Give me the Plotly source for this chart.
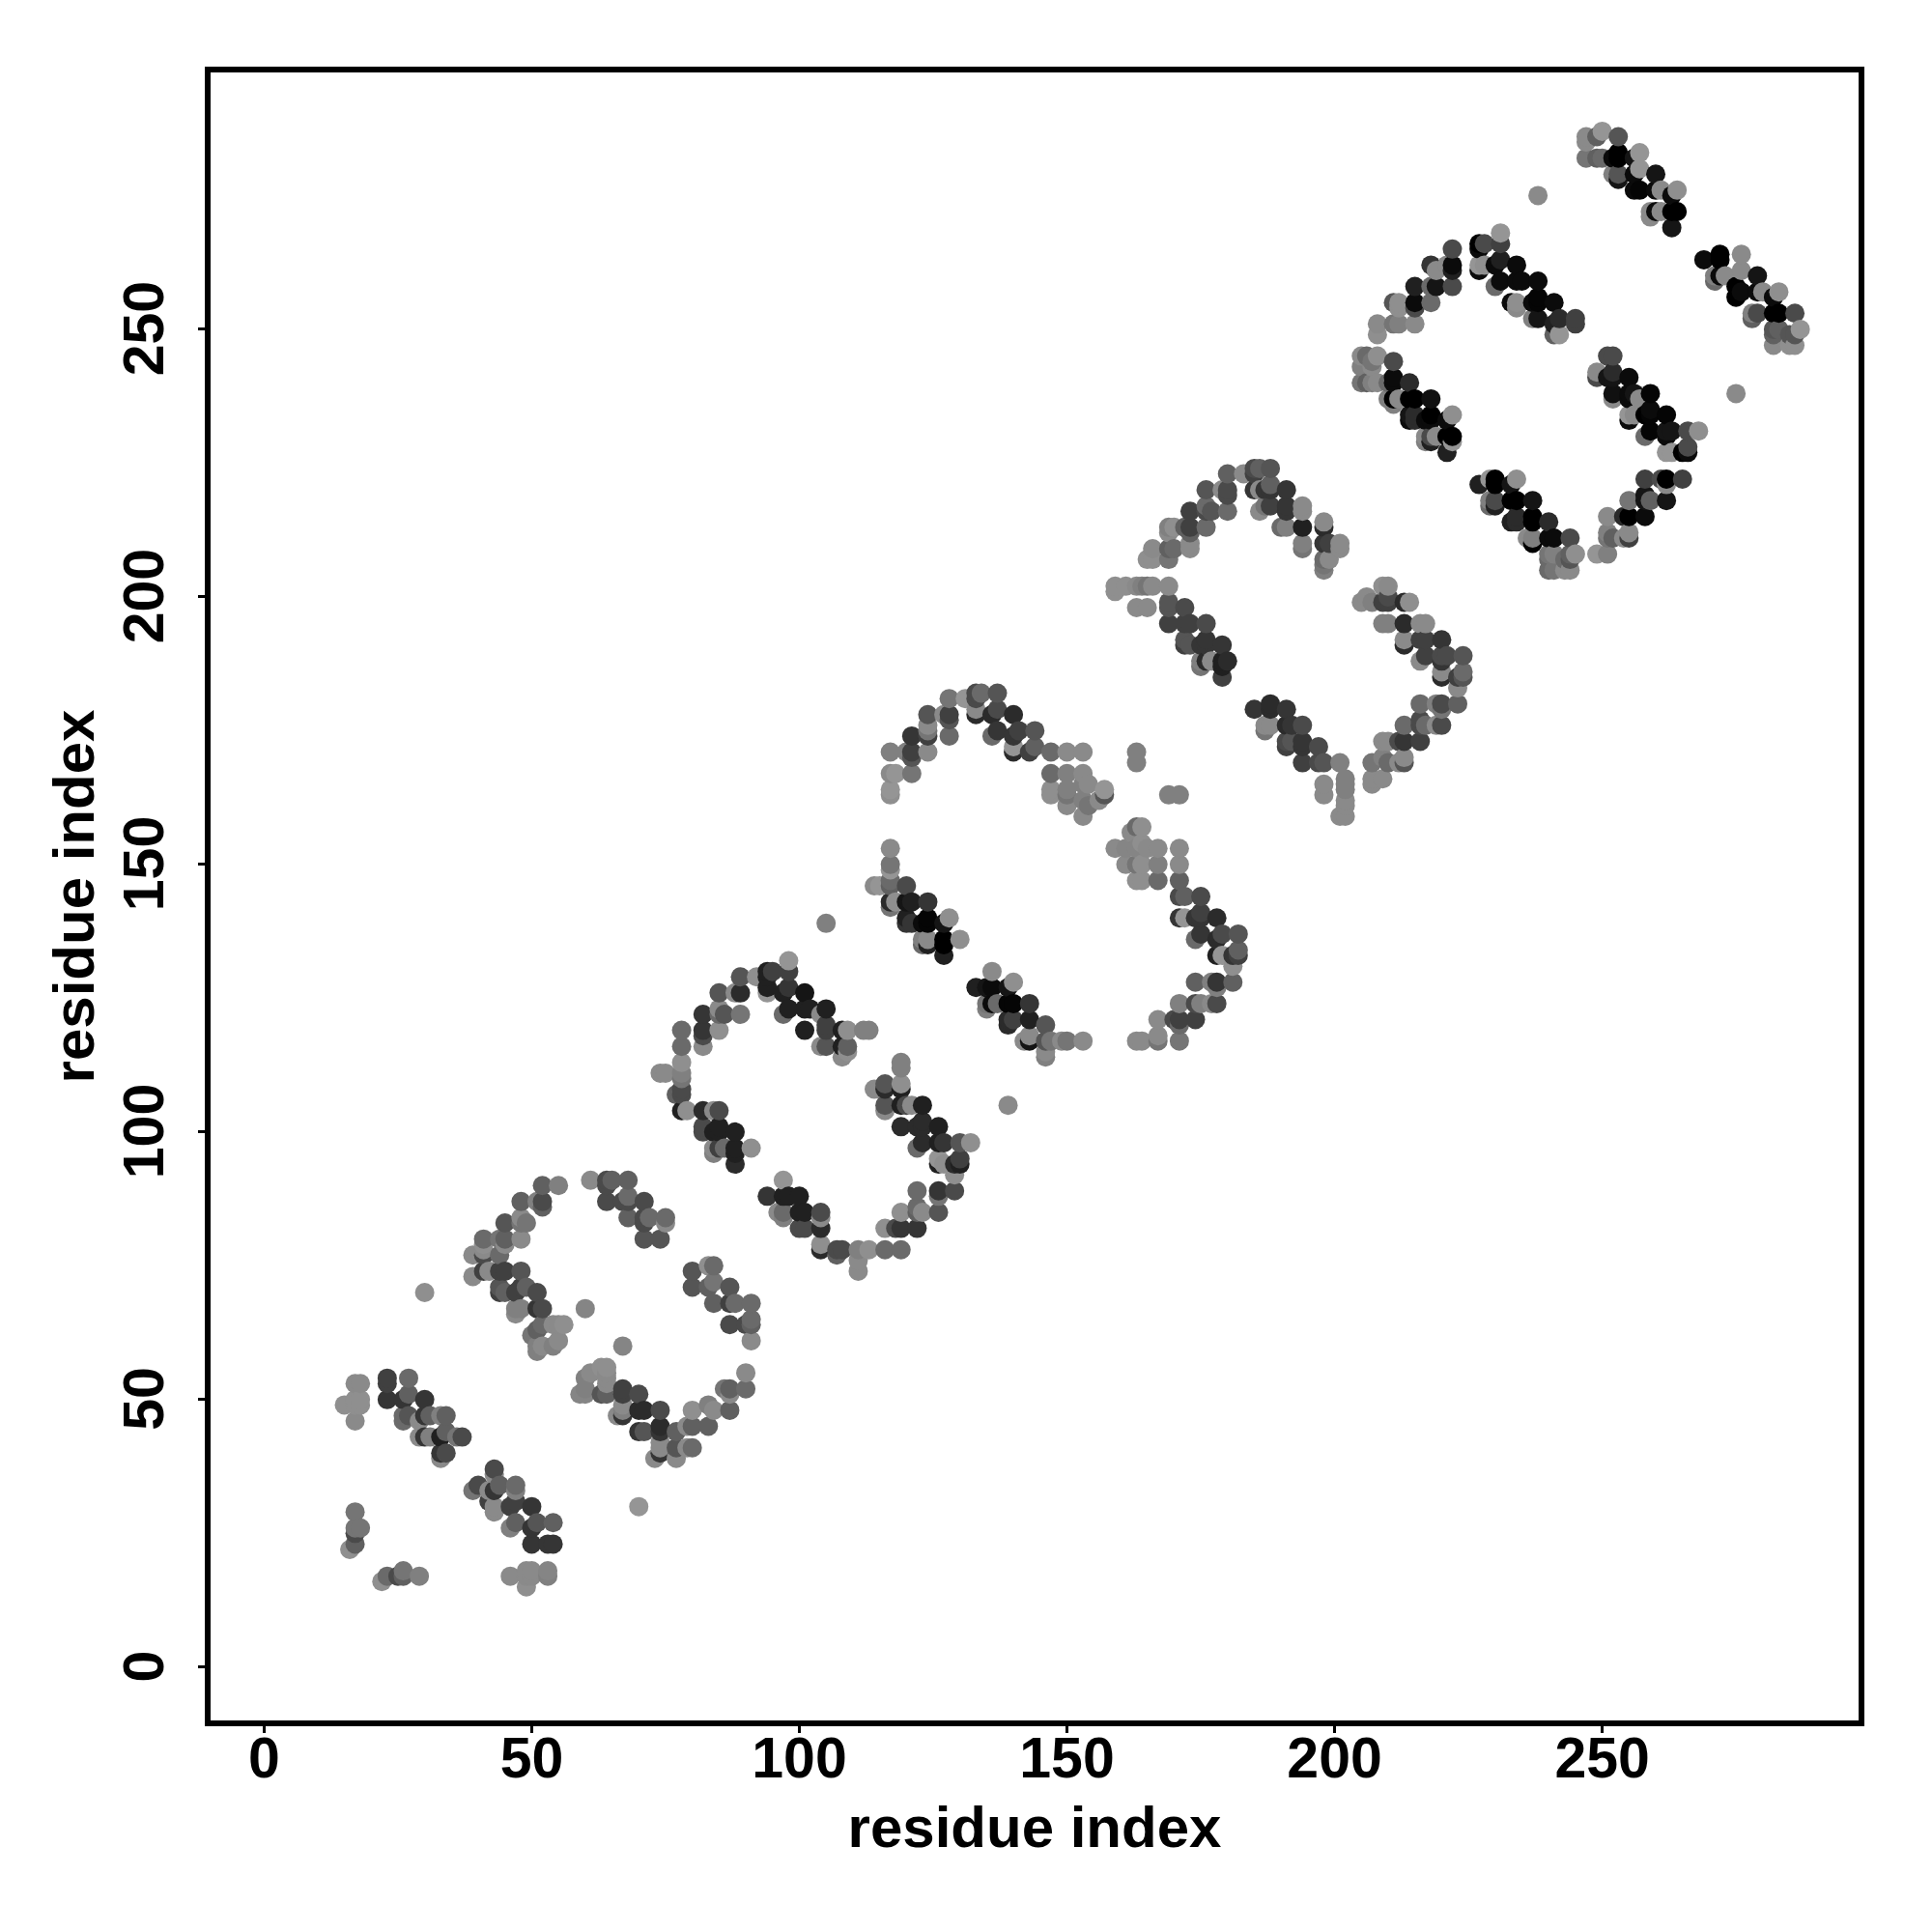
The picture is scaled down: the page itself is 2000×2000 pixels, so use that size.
import plotly.graph_objects as go

# each contact: (residue i, residue j, shade)
corner_a = [(17,29,110),(17,25,70),(17,26,110),(18,26,110),(17,23,90),(16,22,135),
 (22,16,135),(23,17,100),(25,17,70),(26,17,90),(26,18,110),(29,17,120),
 (46,17,130),(49,17,130),(49,18,130),(50,18,130),(50,17,130),(49,15,135),(53,18,125),(53,17,120)]
strand_a = [(43,37,70),(43,36,130),(40,34,70),(39,33,110),(42,33,130),(44,34,90),(43,33,50),(47,34,100),(47,33,120),
 (47,31,60),(46,30,60),(50,30,50),(43,30,130),(42,31,60),(43,29,130),(47,27,90),(46,26,120),(51,27,80),(50,26,50),(54,27,90),
 (50,23,50),(53,23,50),(54,23,50)]
strand_b = [(23,54,60),(23,53,60),(27,54,100),(17,53,130),(18,53,130),(15,49,135),(17,49,135),(17,50,135),(18,50,135),(18,49,135),(17,46,130),
 (23,50,50),(26,50,50),(27,51,90),(30,50,50),(26,47,100),(27,47,80),(26,46,100),(29,46,130),(30,47,50),(31,47,90),(33,47,120),(34,47,90),
 (29,43,130),(30,43,50),(31,43,120),(33,43,30),(34,44,90),(36,43,110),(37,43,70),(33,39,130),(33,40,50),(34,40,70)]
arc_a = [(39,73,130),(39,77,130),(41,80,100),(41,79,135),(41,78,130),(41,77,70),(44,77,100),(44,80,110),(45,80,90),(45,79,130),(45,83,80),
 (48,83,110),(49,83,110),(48,84,130),(48,80,130),(48,87,90),(51,87,120),(52,87,70),(52,86,90),(52,90,90),(55,90,120)]
strand_c = [(41,74,60),(42,74,130),(44,74,60),(45,74,60),(48,74,80),(44,71,80),(44,70,60),(45,70,90),(47,70,60),(48,71,60),(49,71,90),(51,70,70),
 (47,67,120),(47,66,130),(48,67,120),(51,67,50),(52,67,70),(51,63,90),(52,64,100),(54,64,130),(55,64,130),(56,64,135),(50,62,110),
 (51,60,120),(51,59,120),(52,60,130),(54,60,120),(55,61,130)]
singles_a = [(60,67,125),(30,70,135),(67,60,125),(70,30,140),(105,139,120),(139,105,130),(238,275,130),(275,238,130)]
strand_d = [(64,56,135),(63,56,135),(64,55,130),(64,54,130),(59,51,125),(60,51,125),(60,54,120),(61,55,130),(64,53,130),(64,51,90),(63,51,80),(60,52,120),
 (67,52,60),(67,51,60),(70,51,70),(67,49,130),(66,47,130),(67,47,50),(67,48,120),(70,48,40),(71,48,40),(74,48,70),
 (70,44,50),(71,44,80),(74,45,40),(74,44,50),(74,41,130),(74,42,130),(73,39,130),(74,40,50)]
arc_b = [(77,44,90),(77,41,80),(77,39,130),(79,41,130),(80,41,100),(79,45,130),(80,45,90),(80,48,135),(83,45,90),(83,49,120),(84,48,130),(87,48,90),
 (86,52,110),(87,52,90),(87,51,130),(90,52,100),(90,55,130)]
strand_e = [(80,74,80),(80,71,80),(83,75,135),(84,75,100),(84,72,110),(83,71,90),(87,71,80),(84,68,90),(87,68,60),(88,68,100),(91,68,100),
 (87,64,70),(90,64,70),(91,65,100),(91,64,90),(91,61,130)]
strand_f = [(61,91,130),(64,91,70),(65,91,90),(68,91,90),(64,90,70),(64,87,70),(67,87,70),(68,88,100),(68,87,70),(71,87,70),
 (68,84,90),(71,83,70),(71,84,70),(72,84,100),(75,84,100),(75,83,130),(71,80,80),(74,80,80)]
arc_c = [(74,111,130),(75,111,130),(78,111,120),(78,113,135),(78,110,110),(78,119,100),(78,116,100),(77,107,90),(78,108,70),(78,107,70),(78,104,30),(79,104,135),
 (82,122,50),(82,119,50),(82,118,70),(82,116,130),(85,126,80),(85,123,130),(86,122,80),(85,122,100),(89,122,110),(85,119,135),(88,126,130),(89,126,40),(89,129,80),(92,129,135)]
strand_g = [(94,130,30),(94,129,30),(95,130,60),(94,127,30),(94,126,140),(98,132,140),(98,130,60),(97,126,30),(98,127,50),(101,126,20),(97,122,100),(98,123,30),(101,123,30),(102,123,30),(101,119,30),
 (104,122,130),(105,123,30),(105,119,60),(105,120,60),(104,116,130),(105,116,80),(108,119,30),(109,119,135),(112,119,120),(113,119,120),(109,116,90),(108,116,30),(108,114,130),(109,115,135)]
strand_h = [(82,104,40),(84,104,130),(85,104,70),(82,101,70),(82,100,70),(84,100,30),(85,101,30),(85,100,30),(88,100,30),
 (84,97,130),(84,96,120),(85,97,60),(86,97,100),(88,97,30),(88,96,30),(88,94,40),(91,97,135)]
strand_i = [(94,88,50),(97,91,140),(97,88,30),(98,88,30),(100,88,30),(96,85,130),(97,84,120),(97,85,100),(100,85,30),(101,85,30),(104,85,70),(104,84,130),
 (100,82,70),(101,82,70),(104,82,40),(104,79,135),(104,78,40),(107,78,70),(108,78,70),(107,77,90)]
arc_d = [(111,78,120),(113,78,135),(116,78,100),(119,78,100),(111,76,130),(111,74,130),(116,82,135),(118,82,70),(119,82,50),(122,82,50),
 (119,85,135),(122,85,90),(123,85,130),(126,85,80),(122,86,100),(122,89,100),(126,89,50),(126,88,110),(129,89,70)]
strand_j = [(119,113,120),(119,112,120),(119,109,135),(114,108,130),(115,108,130),(116,109,80),(116,108,40),(119,108,30),(116,105,80),(116,104,130),
 (119,105,30),(120,105,70),(121,105,130),(123,105,30),(119,101,40),(122,101,40),(123,102,40),(123,101,40),(126,101,30),
 (122,97,100),(123,98,40),(126,98,30),(127,98,50),(126,94,30),(126,95,140),(127,94,135),(130,98,80),(132,98,135),(129,94,40),(130,95,60),(129,92,135),(130,94,30)]
arc_e = [(117,171,120),(117,167,130),(118,167,140),(117,164,140),(117,163,135),(121,167,110),(120,171,120),(121,171,60),(121,170,80),(121,174,50),(124,171,130),(124,178,80),(124,174,60),(124,175,110),(124,176,130),
 (127,178,130),(128,178,60),(128,177,80),(128,174,100),(128,181,110),(131,181,140)]
strand_k = [(133,182,70),(134,182,100),(133,181,70),(133,179,130),(133,178,40),(137,182,80),(136,178,40),(137,179,70),(140,178,40),(136,174,100),(137,175,50),(140,174,50),(141,175,60),(144,175,80),
 (140,171,40),(140,172,140),(143,171,60),(144,172,90),(147,171,100),(150,171,130),(153,171,130)]
cloud_a = [(147,167,100),(150,167,120),(153,167,130),(147,164,135),(147,163,135),(150,164,120),(150,163,110),(150,161,130),(153,165,120),(153,162,120),(153,159,130),(154,165,130),(154,161,110),(157,164,140),(157,163,80),(156,162,130),
 (163,171,120),(163,169,120),(169,163,120),(171,163,120)]
cloud_b = [(159,153,130),(161,153,125),(162,156,130),(163,157,100),(164,157,135),(161,150,130),(163,153,125),(164,154,135),(164,150,135),(163,150,110),(163,147,135),(164,147,135),(165,153,130),(167,153,130),(167,150,120),(167,147,100)]
strand_l = [(171,153,130),(171,150,130),(171,147,90),(171,144,70),(172,144,90),(175,144,70),(171,140,50),(172,140,140),(175,141,60),(174,140,50),(175,140,50),(178,140,40),
 (174,136,100),(175,137,50),(178,136,40),(179,137,70),(182,137,80),(178,133,30),(179,133,140),(182,134,90),(181,133,50),(182,133,60),(181,131,135)]
arc_f = [(174,128,90),(177,128,120),(178,128,50),(178,127,120),(181,128,90),(171,124,120),(174,124,70),(175,124,120),(177,124,130),(178,124,70),
 (167,121,130),(171,121,60),(170,121,70),(174,121,60),(171,120,100),(163,117,130),(164,117,130),(167,118,130),(167,117,110),(171,117,110)]
strand_m = [(133,127,30),(136,130,130),(136,127,10),(135,127,20),(140,128,135),(139,127,20),(135,124,110),(135,123,120),(136,124,10),(137,124,100),(139,124,5),(140,124,5),(143,124,50),
 (139,120,40),(139,121,40),(140,121,60),(143,121,30),(146,120,80),(142,117,130),(143,117,20),(143,118,130),(146,117,80),(147,117,110),(149,117,130),(150,117,110),(153,117,130),(146,115,130),(146,114,120)]
strand_n = [(117,153,130),(117,150,110),(117,149,140),(117,147,100),(117,146,90),(114,146,130),(115,146,140),(120,146,70),(117,143,40),(118,143,135),(117,142,110),(120,143,20),(121,143,30),(124,143,50),
 (120,139,50),(121,139,50),(120,140,30),(124,140,5),(123,139,10),(124,139,5),(127,139,20),(128,140,135),(123,136,120),(123,135,100),(124,136,130),(124,135,30),(127,136,0),(127,135,0),(130,136,135),(127,133,30)]
strand_o = [(159,202,135),(159,201,135),(161,202,135),(163,202,130),(164,202,120),(165,202,110),(166,202,130),(169,202,130),(163,198,130),(165,198,130),(169,199,80),(169,198,80),(172,198,70),
 (169,195,60),(172,195,60),(173,195,60),(176,195,70),(172,192,80),(172,191,60),(173,191,80),(175,191,50),(176,192,50),(176,191,50),(179,191,50),
 (175,188,120),(175,187,110),(176,188,40),(177,188,130),(179,188,30),(180,188,40),(179,187,30),(179,185,60)]
arc_g = [(165,207,135),(166,209,130),(166,207,135),(169,213,120),(170,213,135),(169,209,90),(170,209,100),(169,207,110),(169,212,130),(172,213,90),(173,213,60),(173,216,60),(173,212,90),(173,209,130),(173,210,130),(176,213,100),
 (176,220,80),(176,217,100),(176,216,70),(177,216,80),(180,216,100),(179,220,130),(180,220,70),(180,219,70),(180,223,90),(183,223,130)]
strand_p = [(185,224,70),(186,224,90),(185,223,60),(186,220,130),(185,220,50),(188,224,80),(187,220,50),(188,221,90),(188,220,50),(191,220,50),(187,217,110),(186,216,130),(188,217,60),(191,217,50),(191,216,50),(194,217,130),(194,216,130),
 (191,213,120),(190,213,100),(194,213,30),(194,209,110),(194,210,120),(198,214,130),(198,213,40),(198,210,50),(199,210,60),(201,210,130),(201,209,130),(198,207,100),(199,207,130),(198,205,120),(198,206,110)]
strand_q = [(205,199,130),(206,200,130),(207,199,120),(209,202,135),(210,202,130),(209,199,60),(210,200,70),(210,199,60),(213,199,40),(214,199,135),(209,195,120),(210,195,120),(213,195,40),(216,195,130),(217,195,130),
 (213,192,130),(213,191,40),(216,192,60),(217,192,60),(220,192,50),(216,188,130),(217,189,60),(220,189,70),(221,189,70),(224,189,80),(220,188,50),(220,186,130),(220,185,40),(223,185,60),(224,186,100),(224,185,80),(223,183,130)]
arc_h = [(216,180,100),(219,180,120),(220,180,70),(223,180,90),(220,179,110),(213,176,100),(216,177,70),(217,176,100),(219,176,130),(220,176,70),(216,176,70),
 (209,173,130),(210,173,130),(212,173,70),(213,173,50),(216,173,60),(207,169,110),(209,170,120),(210,169,100),(212,169,130),(213,170,130),(213,169,80),(207,166,130),(207,165,130),(209,166,130)]
strand_r = [(185,179,50),(188,180,40),(188,179,40),(191,179,50),(187,176,130),(187,175,110),(188,176,130),(191,176,40),(192,176,50),(194,176,70),(191,173,70),(191,172,60),(192,173,80),(194,173,50),(194,172,50),(197,172,70),
 (194,169,60),(197,169,70),(198,169,80),(201,169,120),(198,165,130),(198,163,130),(202,166,120),(202,165,120),(202,164,120),(202,162,130),(202,161,130),(201,159,130),(202,159,130)]
strand_s = [(247,286,130),(247,285,130),(250,287,140),(249,286,90),(247,282,110),(249,282,90),(250,282,100),(253,286,80),(253,282,0),(253,283,0),(252,282,10),(252,279,120),(253,279,80),(253,278,20),(257,283,140),(256,282,20),(257,280,140),(256,279,10),(260,279,20),
 (256,276,10),(257,276,5),(260,276,10),(261,276,130),(264,276,135),(263,275,10),(259,272,130),(259,271,130),(260,272,10),(261,272,130),(263,272,0),(264,272,0),(263,269,20)]
strand_t = [(269,263,10),(272,264,0),(272,263,0),(276,264,130),(271,260,120),(271,259,100),(272,260,10),(273,260,130),(276,261,130),(275,258,0),(276,257,10),(275,256,0),(279,260,20),(279,257,10),(280,257,130),(283,257,135),(282,256,10),
 (278,253,120),(278,252,90),(279,253,70),(282,253,0),(283,253,0),(286,253,70),(282,250,80),(283,250,90),(282,249,90),(282,247,130),(285,249,80),(285,247,135),(286,247,135),(287,250,140),(286,249,80)]
arc_i = [(208,251,130),(208,249,135),(211,251,110),(212,251,120),(215,251,130),(211,255,80),(212,255,135),(212,254,135),(215,255,10),(215,254,70),(215,258,30),(218,255,100),(218,258,100),(219,258,20),(218,262,50),(219,261,130),(222,262,10),(222,261,30),(222,258,70),(222,265,70),(221,262,130)]
strand_u = [(227,266,0),(227,265,10),(228,266,70),(227,262,140),(227,261,10),(228,262,135),(231,268,140),(231,266,60),(231,263,30),(230,262,10),(234,262,10),(230,258,100),(231,259,10),(234,259,10),(235,259,10),(238,259,10),
 (234,255,135),(234,254,130),(233,255,10),(237,255,10),(238,256,5),(238,255,5),(241,255,10),(237,252,120),(238,252,20),(241,251,30),(242,252,40),(241,249,90),(242,249,140),(245,252,60),(245,251,60)]
strand_v = [(205,245,130),(205,243,120),(205,240,110),(206,240,90),(206,245,100),(207,244,110),(208,245,135),(208,240,130),(207,243,130),(207,240,120),(211,244,70),(211,241,10),(211,240,10),(210,240,100),(214,240,40),
 (210,237,120),(211,237,0),(212,237,130),(211,236,120),(214,237,0),(215,237,0),(218,237,15),(214,234,20),(214,233,10),(215,234,40),(215,233,40),(218,234,0),(217,233,10),(218,233,10),(222,234,135),(221,233,10),
 (217,230,130),(217,229,120),(218,230,70),(218,229,30),(219,230,130),(221,230,0),(222,230,0),(222,229,140),(221,227,30)]
strand_w = [(227,221,30),(229,222,140),(230,222,0),(230,221,0),(234,222,135),(233,221,20),(229,218,120),(229,217,100),(230,218,70),(230,217,30),(233,218,0),(234,218,0),(237,218,20),(233,214,30),(234,215,40),(234,214,40),(237,215,0),(237,214,0),(240,214,40),
 (237,211,120),(237,210,0),(236,211,130),(240,211,10),(241,211,10),(244,211,70),(240,208,110),(241,208,120),(240,207,100),(240,205,100),(241,205,110),(243,207,100),(243,205,130),(244,205,130),(244,207,80),(245,208,135),(244,208,90)]
arc_j = [(249,208,140),(251,208,120),(251,212,120),(251,211,110),(252,211,90),(251,215,130),(254,211,130),(255,212,130),(255,211,60),(255,215,0),(254,215,40),(258,215,10),(255,218,110),(258,219,20),(259,218,90),(258,218,20),(262,218,20),
 (258,222,60),(261,222,70),(262,222,0),(262,221,130),(265,222,60)]
strand_x = [(251,245,70),(252,245,70),(249,242,130),(249,241,70),(252,242,40),(251,241,20),(252,241,20),(255,241,10),(252,238,15),(252,237,130),(255,238,10),(256,238,20),(255,237,10),(259,238,5),(257,237,130),
 (255,234,140),(255,233,10),(256,234,130),(258,234,0),(259,235,10),(259,234,5),(262,234,5),(258,230,100),(259,231,5),(262,231,20),(263,231,20),(266,231,70),(268,231,135),(262,230,10),(262,227,140),(263,227,140),(265,227,0),(266,228,70),(266,227,10)]

groups = [corner_a, strand_a, strand_b, arc_a, strand_c, singles_a, strand_d, arc_b, strand_e, strand_f, arc_c, strand_g, strand_h,
          strand_i, arc_d, strand_j, arc_e, strand_k, cloud_a, cloud_b, strand_l, arc_f, strand_m, strand_n, strand_o, arc_g, strand_p,
          strand_q, arc_h, strand_r, strand_s, strand_t, arc_i, strand_u, strand_v, strand_w, arc_j, strand_x]
contacts = sorted((c for g in groups for c in g), key=lambda c: (c[0], c[1]))
tick_values = [0, 50, 100, 150, 200, 250]
axis_label = "residue index"

fig = go.Figure(go.Scatter(
    x=[c[0] for c in contacts], y=[c[1] for c in contacts], mode="markers",
    marker=dict(size=20, color=[c[2] for c in contacts], cmin=0, cmax=240,
                colorscale=[[0, "#000000"], [1, "#ffffff"]], line=dict(width=0), opacity=1),
    showlegend=False, hoverinfo="skip"))

tick_font = dict(family="Liberation Sans", size=59, color="black")
title_font = dict(family="Liberation Sans", size=60, color="black")
bold = "<b>%s</b>"
axis_common = dict(tickmode="array", tickvals=tick_values, ticktext=[bold % t for t in tick_values],
                   showgrid=False, zeroline=False, showline=True, linecolor="black", linewidth=5.5, mirror=True,
                   ticks="outside", ticklen=7, tickwidth=3, tickcolor="black", tickfont=tick_font)
fig.update_xaxes(**axis_common, range=[-10.0, 297.9],
                 title=dict(text=bold % axis_label, font=title_font, standoff=20), ticklabelstandoff=-25)
fig.update_yaxes(**axis_common, range=[-9.96, 298.0], tickangle=-90, ticklabelstandoff=13, ticklabelshift=8,
                 title=dict(text=bold % axis_label, font=title_font, standoff=1))
# page body has an 8 px margin
fig.update_layout(width=1984, height=1984, plot_bgcolor="white", paper_bgcolor="white",
                  margin=dict(l=210.2, r=1984 - (1924.5 - 8), t=66.5, b=1984 - (1781.2 - 8), autoexpand=False))
fig.write_html("out.html")
